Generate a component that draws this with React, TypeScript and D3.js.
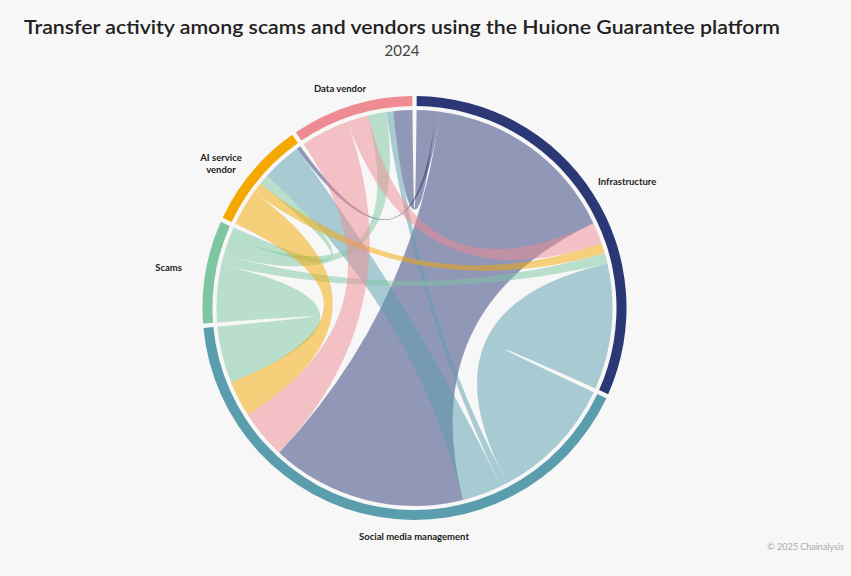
import React from 'react';
import * as d3 from 'd3';

const groups = ['Infrastructure', 'Social media management', 'Scams', 'AI service vendor', 'Data vendor'];
const groupColors = ['#2b3875', '#5a9ead', '#7ec6a2', '#f5a800', '#ef8b93'];
// flowMatrix[i][j] = transfer volume from group i to group j (share)
const flowMatrix = [
  [0, 56.5, 0, 1.2, 5.5],
  [36.5, 0, 0, 11.5, 2],
  [3, 16.5, 0, 3, 5.3],
  [3, 10.5, 0, 0, 0],
  [6.2, 14, 0, 0, 0],
];
const titleText = 'Transfer activity among scams and vendors using the Huione Guarantee platform';
const subtitleText = '2024';
const creditText = '© 2025 Chainalysis';

const W = 851, H = 576;
const cx = 414.5, cy = 308;
const ringOuter = 212, ringInner = 202, ribbonR = 198;
const padDeg = 1.2;

type Seg = { startAngle: number; endAngle: number; radius: number };

function layout() {
  const n = groups.length;
  const pad = (padDeg * Math.PI) / 180;
  let total = 0;
  for (let i = 0; i < n; i++) for (let j = 0; j < n; j++) total += 2 * flowMatrix[i][j];
  const ang = d3.scaleLinear().domain([0, total]).range([0, 2 * Math.PI - n * pad]);
  const src: Record<string, Seg> = {};
  const tgt: Record<string, Seg> = {};
  const groupArcs: { index: number; startAngle: number; endAngle: number }[] = [];
  let cum = 0;
  for (let i = 0; i < n; i++) {
    const g0 = pad / 2 + i * pad + ang(cum);
    const order = d3.range(n).filter((j) => j !== i).sort((a, b) => ((i - a + n) % n) - ((i - b + n) % n));
    for (const j of order) {
      const v = flowMatrix[i][j];
      if (!v) continue;
      const a0 = pad / 2 + i * pad + ang(cum);
      cum += v;
      const a1 = pad / 2 + i * pad + ang(cum);
      src[i + '-' + j] = { startAngle: a0, endAngle: a1, radius: ribbonR };
    }
    for (const j of order) {
      const v = flowMatrix[j][i];
      if (!v) continue;
      const a0 = pad / 2 + i * pad + ang(cum);
      cum += v;
      const a1 = pad / 2 + i * pad + ang(cum);
      tgt[j + '-' + i] = { startAngle: a0, endAngle: a1, radius: ribbonR };
    }
    const g1 = pad / 2 + i * pad + ang(cum);
    groupArcs.push({ index: i, startAngle: g0, endAngle: g1 });
  }
  const ribbons: { key: string; s: number; d: string }[] = [];
  const rib = d3.ribbon<any, any>();
  for (let i = 0; i < n; i++)
    for (let j = 0; j < n; j++) {
      if (!flowMatrix[i][j]) continue;
      const k = i + '-' + j;
      ribbons.push({ key: k, s: i, d: rib({ source: src[k], target: tgt[k] }) as unknown as string });
    }
  return { groupArcs, ribbons };
}

const labels = [
  { g: 0, lines: ['Infrastructure'], x: 598, y: 185, anchor: 'start' },
  { g: 1, lines: ['Social media management'], x: 414, y: 540, anchor: 'middle' },
  { g: 2, lines: ['Scams'], x: 182, y: 271, anchor: 'end' },
  { g: 3, lines: ['AI service', 'vendor'], x: 221, y: 161, anchor: 'middle' },
  { g: 4, lines: ['Data vendor'], x: 340, y: 92, anchor: 'middle' },
];

export default function App() {
  const { groupArcs, ribbons } = layout();
  const arc = d3.arc<any>().innerRadius(ringInner).outerRadius(ringOuter);
  const font = 'Lato, "Noto Sans", sans-serif';
  return (
    <svg width={W} height={H} style={{ position: 'absolute', left: 0, top: 0, display: 'block' }}>
      <rect width={W} height={H} fill="#f7f7f7" />
      <text x={24} y={34} fontFamily={font} fontWeight={600} fontSize={20} fill="#222" textLength={756} lengthAdjust="spacingAndGlyphs">
        {titleText}
      </text>
      <text x={402} y={56} fontFamily={font} fontSize={15} fill="#444" textAnchor="middle">
        {subtitleText}
      </text>
      <g transform={`translate(${cx},${cy})`}>
        {ribbons.map((r) => (
          <path key={r.key} d={r.d} fill={groupColors[r.s]} fillOpacity={0.5} />
        ))}
        {groupArcs.map((g) => (
          <path key={g.index} d={arc(g) as string} fill={groupColors[g.index]} />
        ))}
      </g>
      {labels.map((l) =>
        l.lines.map((t, k) => (
          <text key={l.g + '-' + k} x={l.x} y={l.y + k * 12} textAnchor={l.anchor as any} fontFamily={font} fontWeight={700} fontSize={9.5} fill="#222">
            {t}
          </text>
        ))
      )}
      <text x={844} y={550} textAnchor="end" fontFamily={font} fontSize={9} fill="#aaa">
        {creditText}
      </text>
    </svg>
  );
}
